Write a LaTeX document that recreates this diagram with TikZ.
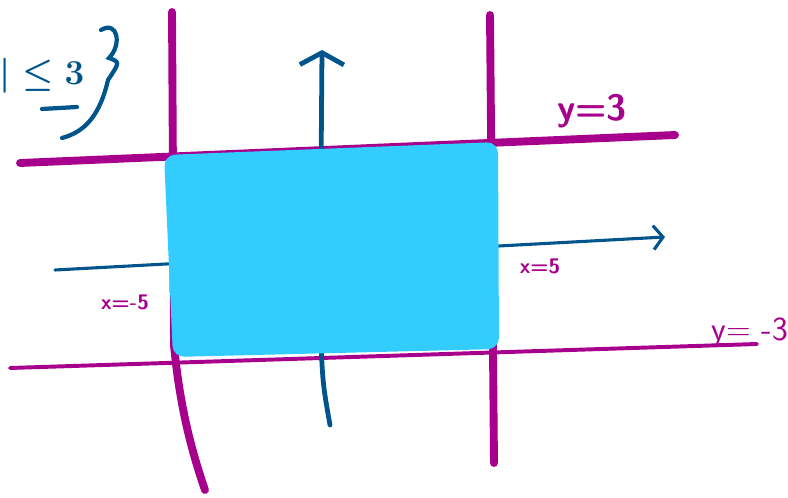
\documentclass[tikz,border=0pt]{standalone}
\usepackage{amsmath,amssymb}
\usepackage{tikz}
\usepackage{xcolor}
\usetikzlibrary{arrows.meta,positioning}
\definecolor{inkm}{HTML}{A6008C}
\definecolor{inkb}{HTML}{00548C}
\definecolor{fillc}{HTML}{33CCFF}

\begin{document}
\begin{tikzpicture}[
    x=0.025cm, y=-0.025cm,
    boundA/.style={draw=inkm, line width=5.6pt, line cap=round},
    boundB/.style={draw=inkm, line width=2.8pt, line cap=round},
    axisX/.style={draw=inkb, line width=2.2pt, line cap=round, -{Straight Barb[length=2.4mm, width=6mm, line width=2.2pt]}},
    axisY/.style={draw=inkb, line width=3.4pt, line cap=round, -{Straight Barb[length=3mm, width=11mm, line width=3.4pt]}},
    labA/.style={text=inkm, font=\sffamily\bfseries\fontsize{26}{26}\selectfont},
    labB/.style={text=inkm, font=\sffamily\fontsize{24}{24}\selectfont},
    labC/.style={text=inkm, font=\sffamily\bfseries\fontsize{15}{15}\selectfont},
    note/.style={text=inkb, font=\fontsize{23}{23}\selectfont, inner sep=1pt}
  ]
    \useasboundingbox (0,0) rectangle (788,498);
    \clip (0,0) rectangle (788,498);

    \coordinate (xs) at (55,270);
    \coordinate (xe) at (665,237);
    \coordinate (ys) at (330,425);
    \coordinate (ye) at (322,50);

    \draw[boundA] (20,163) -- (675,135);
    \draw[boundB] (10,368) -- (757,344);
    \draw[boundA] (172,12) -- (174,345) .. controls (180,410) and (193,455) .. (205,490);
    \draw[boundA] (490,15) -- (494,463);

    \draw[axisX] (xs) -- (xe);
    \draw[axisY] (ys) .. controls (322,380) .. (320,300) -- (ye);

    \fill[fillc, rounded corners=8] (164,155) -- (498,142) -- (499,349) -- (173,357) -- cycle;

    \node[labA] (ytop) at (592,111) {y=3};
    \node[labB] (ybot) at (750,333) {y= -3};
    \node[labC] (xright) at (540,266) {x=5};
    \node[labC] (xleft) at (125,302) {x=-5};

    \node[note, anchor=east] (cond) at (86,76) {$\boldsymbol{|y|\leq 3}$};
    \draw[inkb, line width=3pt, line cap=round] (42,109) -- (77,107);
    \draw[inkb, line width=3pt, line cap=round] (101,30) .. controls (118,20) and (122,45) .. (109,58)
      .. controls (120,62) .. (108,80) .. controls (100,115) and (85,132) .. (62,138);
  \end{tikzpicture}
\end{document}
